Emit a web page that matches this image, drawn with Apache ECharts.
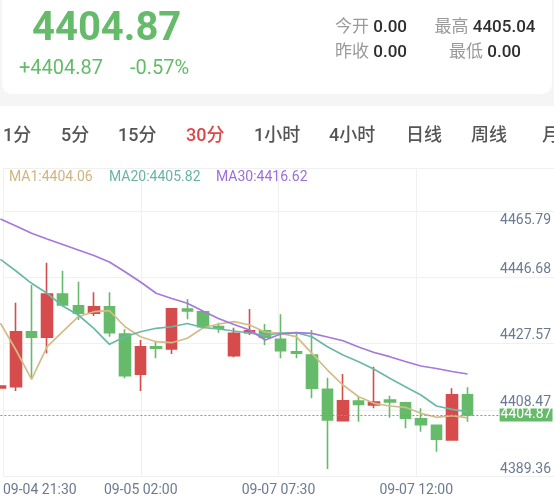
<!DOCTYPE html>
<html>
<head>
<meta charset="utf-8">
<script src="https://cdn.jsdelivr.net/npm/echarts@6/dist/echarts.min.js"></script>
<style>
html, body { margin: 0; padding: 0; background: #fff; }
#main { width: 554px; height: 501px; }
</style>
</head>
<body>
<div id="main"></div>
<script>
// 30 min candles
const times = ["09-04 21:30","09-04 22:00","09-04 22:30","09-04 23:00","09-04 23:30","09-05 00:00","09-05 00:30","09-05 01:00","09-05 01:30","09-05 02:00",
  "09-05 02:30","09-05 03:00","09-05 03:30","09-05 04:00","09-05 04:30","09-07 06:00","09-07 06:30","09-07 07:00","09-07 07:30","09-07 08:00",
  "09-07 08:30","09-07 09:00","09-07 09:30","09-07 10:00","09-07 10:30","09-07 11:00","09-07 11:30","09-07 12:00","09-07 12:30","09-07 13:00","09-07 13:30"];
const openP = [4412.60,4412.98,4428.74,4427.14,4439.55,4436.19,4434.02,4435.91,4428.08,4416.53,4424.44,4423.78,4435.25,4434.47,4430.23,4421.86,4428.45,4429.03,4426.56,4423.01,4422.06,4412.23,4403.23,4408.88,4407.73,4409.17,4408.39,4403.81,4401.91,4397.70,4410.68];
const closeP = [4413.18,4428.74,4427.14,4439.55,4436.39,4434.02,4435.91,4428.45,4416.13,4424.44,4423.98,4435.33,4434.67,4430.17,4429.72,4428.28,4429.03,4427.14,4423.30,4422.55,4412.52,4403.43,4408.96,4407.88,4408.59,4408.59,4403.92,4402.09,4397.90,4410.68,4404.87];
const lowP = [4412.46,4411.75,4415.38,4422.55,4436.11,4432.09,4433.24,4427.31,4415.38,4411.75,4421.12,4422.35,4432.30,4429.89,4428.45,4421.40,4427.80,4424.93,4421.12,4421.12,4409.65,4389.39,4403.15,4402.95,4406.79,4404.09,4401.05,4400.08,4394.35,4397.56,4402.95];
const highP = [4413.32,4437.05,4442.13,4448.52,4446.23,4443.07,4440.03,4440.03,4429.43,4426.36,4425.88,4435.53,4438.11,4434.67,4431.32,4429.89,4435.25,4430.95,4433.73,4428.28,4429.23,4415.56,4416.62,4410.11,4418.71,4410.40,4408.68,4406.79,4402.00,4412.52,4412.81];
const ma1 = [4431.15,4423.50,4415.10,4424.44,4428.74,4433.04,4434.47,4434.76,4430.17,4427.31,4425.88,4425.59,4426.85,4429.80,4430.95,4431.61,4430.66,4428.66,4428.28,4427.31,4422.55,4417.76,4413.46,4410.11,4408.22,4407.45,4407.07,4405.35,4404.21,4404.67,4404.06];
const ma20 = [4449.49,4446.14,4442.61,4439.75,4436.11,4433.53,4429.72,4425.13,4427.31,4428.74,4429.72,4430.17,4431.09,4429.95,4429.52,4428.94,4428.37,4427.65,4428.37,4428.45,4427.31,4424.44,4422.06,4420.14,4417.96,4415.38,4412.98,4410.60,4407.45,4406.50,4405.82];
const ma30 = [4461.04,4459.04,4456.94,4455.31,4453.74,4452.16,4450.58,4448.72,4445.94,4442.99,4439.75,4438.26,4436.88,4434.67,4432.53,4430.81,4429.23,4426.36,4428.08,4428.45,4428.28,4427.22,4426.16,4424.36,4422.78,4421.58,4420.20,4418.91,4418.19,4417.33,4416.62];
const yTicks = [4389.36, 4408.47, 4427.57, 4446.68, 4465.79];
const xTickLabels = ["09-04 21:30", "09-05 02:00", "09-07 07:30", "09-07 12:00"];
const lastPrice = 4404.87;
const tabs = ["1分", "5分", "15分", "30分", "1小时", "4小时", "日线", "周线", "月线"];

const FONT = 'Roboto, "Noto Sans CJK SC", sans-serif';
const UP = '#d64c4c', DOWN = '#66bb6a', AXIS_TXT = '#6c7a91', GRID = '#f0f0f0';
const tabX = [3, 61, 118, 186, 254, 329, 406, 471, 542];

let chart = echarts.init(document.getElementById('main'));
let candles = openP.map((o, i) => [o, closeP[i], lowP[i], highP[i]]);

let graphics = [
  { type: 'rect', shape: { x: 0, y: 0, width: 554, height: 106 }, style: { fill: '#f5f5f5' } },
  { type: 'rect', shape: { x: 2, y: -12, width: 550, height: 106, r: 10 }, style: { fill: '#fff' } },
  { type: 'text', x: 32, y: 30, style: { text: '4404.87', fontSize: 40, fontWeight: 'bold', fontFamily: FONT, fill: DOWN, verticalAlign: 'middle' } },
  { type: 'text', x: 19, y: 69, style: { text: '+4404.87', fontSize: 20, fontFamily: FONT, fill: DOWN, verticalAlign: 'middle' } },
  { type: 'text', x: 130, y: 69, style: { text: '-0.57%', fontSize: 20, fontFamily: FONT, fill: DOWN, verticalAlign: 'middle' } },
];
// 今开 / 最高 / 昨收 / 最低
[['今开', '0.00', 371, 28], ['最高', '4405.04', 485, 28], ['昨收', '0.00', 371, 53], ['最低', '0.00', 485, 53]].forEach(function (q) {
  graphics.push({
    type: 'text', x: q[2], y: q[3],
    style: {
      text: '{l|' + q[0] + '} {v|' + q[1] + '}', fontSize: 17, fontFamily: FONT, align: 'center', verticalAlign: 'middle',
      rich: { l: { fill: '#9a9a9a', fontSize: 17, fontFamily: FONT }, v: { fill: '#2e2e2e', fontSize: 17, fontFamily: FONT, fontWeight: 500 } }
    }
  });
});
tabs.forEach(function (t, i) {
  graphics.push({ type: 'text', x: tabX[i], y: 136, style: { text: t, fontSize: 18, fontFamily: FONT, fontWeight: 500, fill: i === 3 ? '#e04646' : '#555', verticalAlign: 'middle' } });
});
[['MA1:' + ma1[ma1.length - 1].toFixed(2), 9, '#cfb57d'], ['MA20:' + ma20[ma20.length - 1].toFixed(2), 109, '#69b4a5'], ['MA30:' + ma30[ma30.length - 1].toFixed(2), 216, '#9c6fd8']].forEach(function (m) {
  graphics.push({ type: 'text', x: m[1], y: 177, z: 10, style: { text: m[0], fontSize: 14, fontFamily: FONT, fill: m[2], verticalAlign: 'middle' } });
});

let option = {
  animation: false,
  backgroundColor: '#fff',
  graphic: { elements: graphics },
  grid: [
    { left: 0.4, right: 7, top: 168, bottom: 24 },
    { left: 0, right: 0, top: 168, bottom: 24.7 }
  ],
  xAxis: [
    {
      type: 'category', gridIndex: 0, data: times, max: 35, boundaryGap: false,
      axisLine: { show: false }, axisTick: { show: false }, axisLabel: { show: false }, splitLine: { show: false }
    },
    {
      type: 'value', gridIndex: 1, min: 0, max: 4, interval: 1,
      axisLine: { show: false }, axisTick: { show: false },
      splitLine: { show: true, lineStyle: { color: GRID, width: 1 } },
      axisLabel: {
        color: AXIS_TXT, fontSize: 14, fontFamily: FONT, margin: 7, alignMinLabel: 'left', showMaxLabel: false,
        formatter: function (v) { return xTickLabels[v] || ''; }
      }
    }
  ],
  yAxis: [
    {
      type: 'value', gridIndex: 0, position: 'right', offset: 7, min: 4387.10, max: 4475.66,
      axisLine: { show: false }, axisTick: { show: false }, splitLine: { show: false },
      axisLabel: {
        inside: true, margin: 1.5, customValues: yTicks, color: AXIS_TXT, fontSize: 14, fontFamily: FONT,
        formatter: function (v) {
          let s = v.toFixed(2);
          return Math.abs(v - yTicks[yTicks.length - 1]) < 0.001 ? '{top|' + s + '}' : s;
        },
        rich: { top: { padding: [36, 0, 0, 0], color: AXIS_TXT, fontSize: 14, fontFamily: FONT } }
      }
    },
    {
      type: 'value', gridIndex: 1, min: 0, max: 4.65, interval: 1,
      axisLine: { show: false }, axisTick: { show: false }, axisLabel: { show: false },
      splitLine: { show: true, lineStyle: { color: GRID, width: 1 } }
    }
  ],
  series: [
    {
      type: 'candlestick', xAxisIndex: 0, yAxisIndex: 0, data: candles, barWidth: 11,
      itemStyle: { color: UP, color0: DOWN, borderColor: UP, borderColor0: DOWN, borderWidth: 1.6 }
    },
    { name: 'MA1', type: 'line', xAxisIndex: 0, yAxisIndex: 0, data: ma1, showSymbol: false, lineStyle: { color: '#d4bc88', width: 1.7 } },
    { name: 'MA20', type: 'line', xAxisIndex: 0, yAxisIndex: 0, data: ma20, showSymbol: false, lineStyle: { color: '#6cb8a8', width: 1.7 } },
    {
      name: 'MA30', type: 'line', xAxisIndex: 0, yAxisIndex: 0, data: ma30, showSymbol: false, lineStyle: { color: '#a478dc', width: 1.7 },
      // last price line
      markLine: {
        silent: true, symbol: ['none', 'none'], z: 4,
        data: [{ yAxis: lastPrice }],
        lineStyle: { color: '#5cb860', type: [2, 2], width: 1, opacity: 1 },
        emphasis: { disabled: true },
        label: {
          position: 'insideEnd', distance: 0, offset: [7, 0], verticalAlign: 'middle',
          formatter: lastPrice.toFixed(2), color: '#fff', backgroundColor: DOWN,
          textBorderWidth: 0, fontSize: 14, fontFamily: FONT, padding: [0, 1, 0, 1], lineHeight: 13
        }
      }
    }
  ]
};
chart.setOption(option);
</script>
</body>
</html>
